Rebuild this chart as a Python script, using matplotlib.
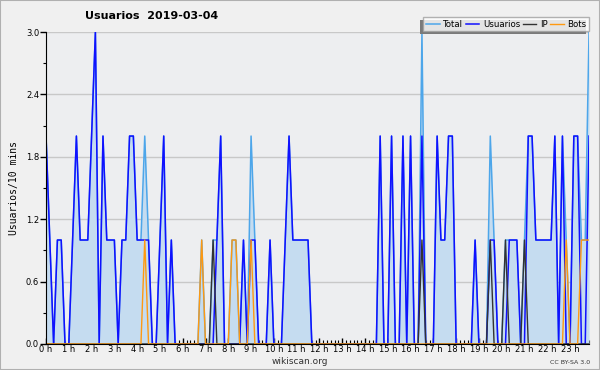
import numpy as np
import matplotlib
matplotlib.use("Agg")
import matplotlib.pyplot as plt
from matplotlib.patches import Rectangle

# 10-minute slots for 2019-03-04 (144 values)
usuarios = [2, 1, 0, 1, 1, 0, 0, 1, 2, 1, 1, 1, 2, 3, 0, 2, 1, 1, 1, 0,
            1, 1, 2, 2, 1, 1, 1, 1, 0, 0, 1, 2, 0, 1, 0, 0, 0, 0, 0, 0,
            0, 0, 0, 0, 0, 1, 2, 0, 0, 0, 0, 0, 1, 0, 1, 1, 0, 0, 0, 1,
            0, 0, 0, 1, 2, 1, 1, 1, 1, 1, 0, 0, 0, 0, 0, 0, 0, 0, 0, 0,
            0, 0, 0, 0, 0, 0, 0, 0, 2, 0, 0, 2, 0, 0, 2, 0, 2, 0, 0, 2,
            0, 0, 0, 2, 1, 1, 2, 2, 0, 0, 0, 0, 0, 1, 0, 0, 0, 1, 1, 0,
            0, 0, 1, 1, 1, 0, 0, 2, 2, 1, 1, 1, 1, 1, 2, 0, 2, 0, 0, 2,
            2, 0, 0, 2]
ip_slots = {44: 1, 99: 1, 117: 1, 121: 1, 126: 1}
bot_slots = {26: 1, 41: 1, 49: 1, 50: 1, 54: 1, 137: 1, 141: 1, 142: 1, 143: 1}

usuarios = np.array(usuarios, dtype=float)
ip = np.zeros(144)
for k, v in ip_slots.items():
    ip[k] = v
bots = np.zeros(144)
for k, v in bot_slots.items():
    bots[k] = v
total = usuarios + ip + bots
x = np.arange(144)

hour_labels = ["%d h" % h for h in range(24)]

fig = plt.figure(figsize=(6, 3.7), dpi=100, facecolor="#f0f0f0")
ax = fig.add_axes([0.0767, 0.0703, 0.905, 0.843])
ax.set_facecolor("#edeef0")

ax.fill_between(x, 0, total, color="#c5dcf0", lw=0, zorder=1)
ax.plot(x, total, color="#4da6ea", lw=1.1, zorder=2, label="Total")
ax.plot(x, usuarios, color="#1010ff", lw=1.1, zorder=3, label="Usuarios")
ax.plot(x, ip, color="#333333", lw=1.0, zorder=4, label="IP")
ax.plot(x, bots, color="#ff9910", lw=1.0, zorder=5, label="Bots")

ax.set_xlim(0, 143)
ax.set_ylim(0, 3)
ax.set_yticks(np.arange(0, 3.01, 0.6))
ax.set_yticklabels(["%.1f" % v for v in np.arange(0, 3.01, 0.6)])
ax.set_yticks(np.arange(0, 3.01, 0.3), minor=True)
ax.set_xticks(np.arange(0, 144, 6))
ax.set_xticklabels(hour_labels)
ax.set_xticks(x, minor=True)
ax.yaxis.grid(True, color="#c8c8c8", lw=1)
ax.set_axisbelow(True)

ax.tick_params(axis="x", which="major", direction="in", length=4, width=1,
               labelsize=6, pad=1)
ax.tick_params(axis="x", which="minor", direction="in", length=3, width=0.8)
ax.tick_params(axis="y", which="major", direction="out", length=4, width=1,
               labelsize=6, pad=1)
ax.tick_params(axis="y", which="minor", direction="out", length=2.5, width=0.8)
for s in ["top", "right"]:
    ax.spines[s].set_visible(False)
ax.spines["left"].set_zorder(6)
ax.spines["bottom"].set_zorder(6)

ax.set_ylabel("Usuarios/10 mins", fontsize=7, family="DejaVu Sans Mono", labelpad=5)

fig.text(85 / 600, 1 - 16 / 370, "Usuarios  2019-03-04", fontsize=8,
         fontweight="bold", ha="left", va="center")
fig.text(300 / 600, 1 - 362 / 370, "wikiscan.org", fontsize=6.5,
         ha="center", va="center", color="#333333")
fig.text(590 / 600, 1 - 362 / 370, "CC BY-SA 3.0", fontsize=4.5,
         ha="right", va="center", color="#333333")

leg = fig.legend(loc="upper right", bbox_to_anchor=(589 / 600, 1 - 17 / 370),
                 ncol=4, fontsize=6.2, frameon=True, fancybox=False,
                 handlelength=1.6, handletextpad=0.4, columnspacing=0.3,
                 borderpad=0.3, borderaxespad=0)
leg.get_frame().set_edgecolor("#a0a0a0")
leg.get_frame().set_facecolor("white")
leg.get_frame().set_linewidth(1)
leg.set_zorder(10)

fig.canvas.draw()
bb = leg.get_window_extent().transformed(fig.transFigure.inverted())
shadow = Rectangle((bb.x0 - 3 / 600, bb.y0 - 3 / 370), bb.width, bb.height,
                   transform=fig.transFigure, facecolor="#7a7a7a",
                   edgecolor="none", zorder=9)
fig.add_artist(shadow)

border = Rectangle((0, 0), 1, 1, transform=fig.transFigure, fill=False,
                   edgecolor="#b0b0b0", lw=1.5, zorder=20)
fig.add_artist(border)

fig.savefig("out.png", dpi=100, facecolor=fig.get_facecolor())
